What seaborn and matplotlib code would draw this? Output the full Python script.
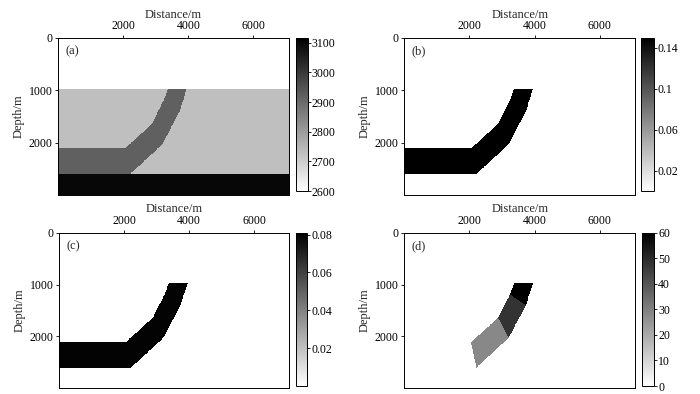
import numpy as np
import matplotlib
matplotlib.use('Agg')
import matplotlib.pyplot as plt
from matplotlib.path import Path
import seaborn as sns

# model grid (m)
x_max = 7080
z_max = 3000
dx = 10

# layered background of panel (a)
layer_tops = [0, 970, 2600]
layer_vel = [2600, 2730, 3100]
band_vel = 2920

# dipping band outline (x, z)
band_x = [0, 2050, 2880, 3240, 3370, 3950, 3730, 3200, 2210, 0]
band_z = [2110, 2110, 1640, 1190, 970, 970, 1400, 2030, 2600, 2600]
band_b = 0.15
band_c = 0.08

# three fault segments of panel (d)
seg1_x = [3370, 3950, 3730, 3240]
seg1_z = [970, 970, 1400, 1190]
seg2_x = [3240, 3730, 3200, 2880]
seg2_z = [1190, 1400, 2030, 1640]
seg3_x = [2880, 3200, 2210, 2050]
seg3_z = [1640, 2030, 2600, 2110]
seg_vals = [60, 48, 28]

panel_labels = ['(a)', '(b)', '(c)', '(d)']
cbar_limits = [(2600, 3115), (0, 0.15), (0, 0.081), (0, 60)]
cbar_ticks = [[2600, 2700, 2800, 2900, 3000, 3100],
              [0.02, 0.06, 0.1, 0.14],
              [0.02, 0.04, 0.06, 0.08],
              [0, 10, 20, 30, 40, 50, 60]]
cbar_ticklabels = [['2600', '2700', '2800', '2900', '3000', '3100'],
                   ['0.02', '0.06', '0.1', '0.14'],
                   ['0.02', '0.04', '0.06', '0.08'],
                   ['0', '10', '20', '30', '40', '50', '60']]
x_ticks = [2000, 4000, 6000]
z_ticks = [0, 1000, 2000]

# build grids
xs = (np.arange(x_max // dx) + 0.5) * dx
zs = (np.arange(z_max // dx) + 0.5) * dx
X, Z = np.meshgrid(xs, zs)
pts = np.column_stack([X.ravel(), Z.ravel()])


def inside(px, pz):
    return Path(np.column_stack([px, pz])).contains_points(pts).reshape(X.shape)


band = inside(band_x, band_z)

model_a = np.zeros(X.shape)
for top, v in zip(layer_tops, layer_vel):
    model_a[Z >= top] = v
model_a[band] = band_vel

model_b = np.where(band, band_b, 0.0)
model_c = np.where(band, band_c, 0.0)

model_d = np.zeros(X.shape)
for (sx, sz), v in zip([(seg1_x, seg1_z), (seg2_x, seg2_z), (seg3_x, seg3_z)], seg_vals):
    model_d[inside(sx, sz)] = v

models = [model_a, model_b, model_c, model_d]

sns.set_theme(style='white')
plt.rcParams['font.family'] = ['Liberation Serif', 'DejaVu Serif']

fig = plt.figure(figsize=(7, 3.94), dpi=100)
ax_pos = [[0.0833, 0.5051, 0.3289, 0.3985],
          [0.5776, 0.5051, 0.3296, 0.3985],
          [0.0847, 0.0145, 0.3286, 0.3949],
          [0.5776, 0.0145, 0.3296, 0.3949]]
cax_pos = [[0.4226, 0.5150, 0.0170, 0.3880],
           [0.9160, 0.5140, 0.0180, 0.3905],
           [0.4229, 0.0203, 0.0163, 0.3891],
           [0.9165, 0.0203, 0.0176, 0.3891]]

for i in range(4):
    ax = fig.add_axes(ax_pos[i])
    cax = fig.add_axes(cax_pos[i])
    vmin, vmax = cbar_limits[i]
    sns.heatmap(models[i], ax=ax, cbar_ax=cax, cmap='gray_r', vmin=vmin, vmax=vmax,
                xticklabels=False, yticklabels=False, rasterized=True)
    for s in ax.spines.values():
        s.set_visible(True)
        s.set_color('black')
        s.set_linewidth(0.7)
    ax.set_xticks([t / dx for t in x_ticks])
    ax.set_xticklabels([str(t) for t in x_ticks])
    ax.set_yticks([t / dx for t in z_ticks])
    ax.set_yticklabels([str(t) for t in z_ticks], rotation=0)
    ax.xaxis.tick_top()
    ax.xaxis.set_label_position('top')
    ax.tick_params(top=True, labeltop=True, bottom=False, labelbottom=False, left=True,
                   direction='out', length=2, width=0.6, pad=2, labelsize=8.5, colors='black')
    ax.set_xlabel('Distance/m', fontsize=9, labelpad=2)
    ax.set_ylabel('Depth/m', fontsize=9, labelpad=3)
    ax.text(0.03, 0.915, panel_labels[i], transform=ax.transAxes, fontsize=9, va='center')

    cbar = ax.collections[0].colorbar
    cbar.outline.set_linewidth(0.7)
    cbar.outline.set_edgecolor('black')
    cbar.set_ticks(cbar_ticks[i])
    cbar.set_ticklabels(cbar_ticklabels[i])
    cax.tick_params(labelsize=8.5, length=2, width=0.6, pad=1, colors='black', right=True)

fig.savefig('out.png', dpi=100)
